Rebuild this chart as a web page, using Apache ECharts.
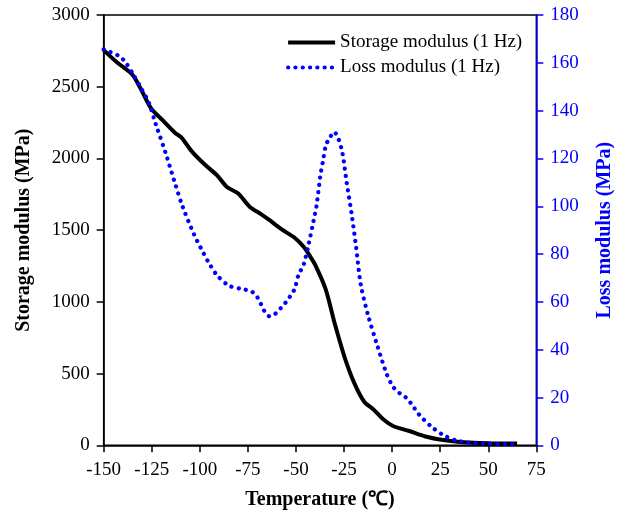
<html>
<head>
    <title>DMA</title>
    <style>
        * { margin: 0; padding: 0; }
        #chart-container { width: 629px; height: 521px; }
    </style>
</head>
<body>
<div id="chart-container"></div>
<script src="https://cdn.jsdelivr.net/npm/echarts@6.0.0/dist/echarts.min.js"></script>
<script>
    // temperature (C) / storage modulus (MPa)
    var storageT = [-150, -143, -135.4, -131.2, -125.3, -119.5, -112.8, -109.4, -104.4, -97.7, -91, -85.9, -80, -74.1, -68, -64.1, -57.4, -50.7, -45.7, -42.3, -39.8, -34.7, -29.7, -24.7, -19.6, -14.6, -9.6, -4.5, 0.5, 8.9, 17.3, 25.7, 34, 42.4, 50.8, 65];
    var storageE = [2755, 2669, 2589, 2498, 2349, 2269, 2178, 2144, 2053, 1961, 1882, 1801, 1756, 1664, 1610, 1573, 1505, 1447, 1379, 1310, 1253, 1094, 842, 614, 432, 306, 249, 180, 135, 100, 62, 39, 25, 18, 15, 12];

    // temperature (C) / loss modulus (MPa)
    var lossT = [-150, -142.1, -138.8, -134.5, -130.4, -126.5, -122.8, -117.6, -112.8, -109.1, -103, -99.3, -95.5, -91, -84.6, -76.7, -72.8, -70.3, -68.3, -66.6, -63.8, -60.8, -57.9, -55.2, -52.9, -50.7, -48.5, -46.5, -45.1, -43.4, -40.9, -39.3, -37.3, -35.9, -34.4, -32.2, -30.2, -28, -25.8, -23.5, -21, -18.8, -16.3, -12.6, -7.9, -2.9, 0.5, 3.9, 7.2, 9.7, 14, 20.6, 27.3, 34.1, 42.4, 65];
    var lossE = [165.6, 162.9, 160.4, 155, 149.2, 143.3, 134.1, 121.8, 109.4, 100.2, 88.2, 82.3, 76.6, 71.1, 66.7, 65.2, 64.2, 62.2, 59.2, 56.4, 54, 55, 57.4, 59.9, 62.5, 65.4, 71.8, 74.5, 78.2, 84.1, 93.7, 100.3, 112.9, 119.1, 125.6, 128.9, 131.1, 128.4, 122.1, 109.2, 96.5, 83.4, 67.3, 54.7, 42.3, 30, 24.5, 21.8, 20, 17.7, 12.9, 7.7, 4, 1.9, 1, 0.4];

    function pairs(xs, ys) {
        var out = [];
        for (var i = 0; i < xs.length; i++) out.push([xs[i], ys[i]]);
        return out;
    }

    var font = 'Liberation Serif';
    var dom = document.getElementById('chart-container');
    var myChart = echarts.init(dom, null, { renderer: 'canvas' });

    var option = {
        animation: false,
        grid: {
            left: 101, right: 81, top: 15, bottom: 68, show: true,
            borderColor: '#000', borderWidth: 1.5
        },
        legend: {
            orient: 'vertical', left: 281, top: 23, itemWidth: 47, itemHeight: 14, itemGap: -4,
            itemStyle: { opacity: 0 },
            textStyle: { fontFamily: font, fontSize: 19, color: '#000' },
            data: [
                { name: 'Storage modulus (1 Hz)', lineStyle: { width: 4 } },
                { name: 'Loss modulus (1 Hz)', lineStyle: { width: 4.2 } }
            ]
        },
        xAxis: {
            type: 'value', min: -150, max: 75, interval: 25,
            name: 'Temperature (\u2103)', nameLocation: 'middle', nameGap: 39, nameMoveOverlap: false,
            nameTextStyle: { fontFamily: font, fontSize: 20, fontWeight: 'bold', color: '#000' },
            axisLine: { show: true, lineStyle: { color: '#000', width: 1.5 } },
            axisTick: { show: true, length: 7, lineStyle: { color: '#000', width: 1.5 } },
            axisLabel: { fontFamily: font, fontSize: 19, color: '#000', margin: 10 },
            splitLine: { show: false }
        },
        yAxis: [{
            type: 'value', min: 0, max: 3000, interval: 500,
            name: 'Storage modulus (MPa)', nameLocation: 'middle', nameGap: 64, nameMoveOverlap: false,
            nameTextStyle: { fontFamily: font, fontSize: 20, fontWeight: 'bold', color: '#000' },
            axisLine: { show: true, onZero: false, lineStyle: { color: '#000', width: 1.5 } },
            axisTick: { show: true, length: 7, lineStyle: { color: '#000', width: 1.5 } },
            axisLabel: { fontFamily: font, fontSize: 19, color: '#000', margin: 14, formatter: function (v) { return String(v); } },
            splitLine: { show: false }
        }, {
            type: 'value', min: 0, max: 180, interval: 20, position: 'right',
            name: 'Loss modulus (MPa)', nameLocation: 'middle', nameGap: 53, nameMoveOverlap: false,
            nameTextStyle: { fontFamily: font, fontSize: 20, fontWeight: 'bold', color: '#0000ff' },
            axisLine: { show: true, onZero: false, lineStyle: { color: '#0000ff', width: 1.5 } },
            axisTick: { show: true, length: 7, lineStyle: { color: '#0000ff', width: 1.5 } },
            axisLabel: { fontFamily: font, fontSize: 19, color: '#0000ff', margin: 14 },
            splitLine: { show: false }
        }],
        series: [{
            name: 'Storage modulus (1 Hz)', type: 'line', yAxisIndex: 0,
            data: pairs(storageT, storageE), smooth: 0.3, symbol: 'none',
            lineStyle: { color: '#000', width: 4 }, itemStyle: { color: '#000' }
        }, {
            name: 'Loss modulus (1 Hz)', type: 'line', yAxisIndex: 1,
            data: pairs(lossT, lossE), smooth: 0.3, symbol: 'none',
            lineStyle: { color: '#0000ff', width: 4.2, type: [0.1, 7.2], cap: 'round' }, itemStyle: { color: '#0000ff' }
        }]
    };

    myChart.setOption(option);
    window.addEventListener('resize', myChart.resize);
</script>
</body>
</html>
